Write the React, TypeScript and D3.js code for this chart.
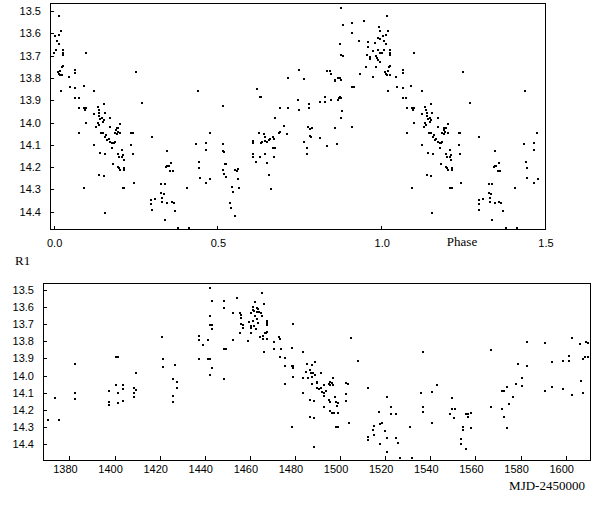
import * as d3 from "d3"

// R1 magnitudes folded on phase (0..1); the 1.0-1.5 part repeats 0-0.5
const phasePoints: [number, number][] = [
  [0.017, 13.521], [0.022, 13.59], [0.005, 13.611], [0.015, 13.608], [0.01, 13.633], [0.015, 13.649],
  [0.002, 13.687], [0.008, 13.675], [0.028, 13.675], [0.028, 13.69], [0.028, 13.697], [0.012, 13.772],
  [0.02, 13.769], [0.025, 13.75], [0.028, 13.747], [0.018, 13.787], [0.026, 13.787], [0.015, 13.78],
  [0.022, 13.857], [0.046, 13.794], [0.049, 13.839], [0.066, 13.765], [0.066, 13.777], [0.066, 13.844],
  [0.076, 13.889], [0.066, 13.889], [0.078, 13.936], [0.078, 14.046], [0.092, 13.836], [0.094, 13.936],
  [0.1, 13.936], [0.097, 13.944], [0.1, 13.69], [0.1, 14.001], [0.094, 14.292], [0.124, 13.857],
  [0.124, 13.963], [0.124, 14.101], [0.135, 13.929], [0.137, 13.944], [0.139, 13.959], [0.14, 13.971],
  [0.142, 13.986], [0.137, 14.011], [0.13, 14.019], [0.134, 14.004], [0.142, 14.138], [0.14, 14.235],
  [0.148, 13.981], [0.153, 13.989], [0.15, 13.996], [0.153, 13.917], [0.156, 13.959], [0.145, 14.049],
  [0.151, 14.049], [0.158, 14.064], [0.161, 14.056], [0.153, 14.238], [0.156, 14.404], [0.158, 14.141],
  [0.163, 14.078], [0.168, 14.075], [0.173, 14.086], [0.178, 14.093], [0.173, 14.019], [0.173, 13.978],
  [0.178, 14.116], [0.183, 14.093], [0.186, 14.086], [0.181, 14.186], [0.186, 14.046], [0.191, 14.034],
  [0.193, 14.026], [0.195, 14.041], [0.198, 14.026], [0.193, 14.052], [0.198, 14.141], [0.198, 14.198],
  [0.201, 14.206], [0.201, 14.153], [0.203, 14.213], [0.203, 14.007], [0.203, 14.046], [0.209, 14.123],
  [0.209, 14.153], [0.212, 14.146], [0.214, 14.168], [0.216, 14.206], [0.211, 14.292], [0.216, 14.292],
  [0.216, 14.213], [0.236, 14.046], [0.242, 14.046], [0.236, 14.101], [0.241, 14.141], [0.244, 14.27],
  [0.251, 13.772], [0.27, 13.911], [0.3, 14.064], [0.297, 14.348], [0.297, 14.365], [0.3, 14.392],
  [0.31, 14.345], [0.331, 14.34], [0.329, 14.276], [0.329, 14.318], [0.336, 14.322], [0.343, 14.198],
  [0.339, 14.276], [0.331, 14.355], [0.339, 14.437], [0.346, 14.126], [0.346, 14.194], [0.351, 14.194],
  [0.356, 14.217], [0.359, 14.183], [0.364, 14.217], [0.346, 14.359], [0.361, 14.355], [0.366, 14.359],
  [0.371, 14.395], [0.381, 14.475], [0.414, 14.475], [0.407, 14.292], [0.44, 13.857], [0.435, 14.096],
  [0.443, 14.176], [0.445, 14.206], [0.446, 14.247], [0.465, 14.093], [0.465, 14.123], [0.465, 14.27],
  [0.476, 14.046], [0.478, 14.253],
  [0.517, 13.926], [0.517, 14.096], [0.519, 14.131], [0.517, 14.126], [0.517, 14.213], [0.519, 14.232],
  [0.524, 14.186], [0.527, 14.188], [0.527, 14.243], [0.539, 14.359], [0.542, 14.385], [0.546, 14.291],
  [0.547, 14.31], [0.554, 14.213], [0.56, 14.216], [0.563, 14.21], [0.562, 14.255], [0.565, 14.295],
  [0.554, 14.418], [0.608, 14.083], [0.608, 14.09], [0.608, 14.143], [0.61, 14.153], [0.619, 14.176],
  [0.621, 13.85], [0.629, 13.884], [0.633, 13.884], [0.626, 14.046], [0.631, 14.153], [0.634, 14.09],
  [0.636, 14.086], [0.641, 14.052], [0.644, 14.081], [0.646, 14.064], [0.646, 14.141], [0.651, 14.183],
  [0.657, 14.235], [0.663, 14.297], [0.651, 14.086], [0.656, 14.078], [0.661, 14.075], [0.669, 14.067],
  [0.671, 14.116], [0.676, 14.116], [0.673, 14.075], [0.673, 14.156], [0.676, 13.978], [0.687, 14.046],
  [0.692, 14.041], [0.692, 13.933], [0.704, 14.016], [0.712, 14.052], [0.715, 13.799], [0.715, 13.936],
  [0.748, 13.765], [0.746, 13.899], [0.75, 13.944],
  [0.765, 13.805], [0.78, 13.917], [0.78, 13.933], [0.775, 14.019], [0.783, 14.031], [0.788, 14.026],
  [0.765, 14.086], [0.773, 14.113], [0.773, 14.143], [0.783, 14.061], [0.785, 14.064], [0.813, 13.907],
  [0.829, 13.884], [0.829, 13.907], [0.813, 14.071], [0.834, 14.104], [0.834, 13.769], [0.844, 13.769],
  [0.847, 13.784], [0.859, 13.809], [0.859, 13.814], [0.847, 13.899], [0.859, 14.023], [0.864, 14.096],
  [0.867, 13.899], [0.872, 13.892], [0.874, 13.884], [0.877, 13.889], [0.869, 13.799], [0.874, 13.802],
  [0.877, 13.809], [0.876, 13.981], [0.879, 13.947], [0.874, 13.646], [0.876, 13.699], [0.882, 13.702],
  [0.876, 13.484], [0.882, 13.563], [0.91, 13.555], [0.91, 13.597], [0.91, 13.839], [0.918, 13.839],
  [0.91, 14.019], [0.933, 13.633], [0.935, 13.783], [0.946, 13.543], [0.953, 13.75], [0.959, 13.638],
  [0.959, 13.66], [0.956, 13.697], [0.966, 13.705], [0.966, 13.717], [0.974, 13.679], [0.976, 13.794],
  [0.981, 13.642], [0.984, 13.702], [0.986, 13.712], [0.984, 13.75], [0.989, 13.62], [0.991, 13.675],
  [0.991, 13.72], [0.994, 13.57], [0.996, 13.59], [0.996, 13.623], [0.996, 13.687], [0.996, 13.727],
]

// R1 magnitudes against MJD-2450000
const mjdPoints: [number, number][] = [
  [1370.4, 14.259], [1373.4, 14.129], [1375.4, 14.259], [1382.5, 13.932], [1382.5, 14.1], [1382.5, 14.137],
  [1397.6, 14.092], [1397.6, 14.156], [1397.6, 14.173], [1400.5, 14.055], [1400.5, 13.891], [1401.4, 13.891],
  [1401.4, 14.1], [1401.7, 14.158], [1403.6, 14.055], [1403.6, 14.079], [1403.6, 14.148], [1408.7, 14.071],
  [1408.7, 14.123], [1408.7, 14.1], [1409.4, 14.084], [1409.4, 13.984], [1421.2, 13.777], [1421.4, 13.904],
  [1421.4, 13.949], [1425.7, 14.117], [1425.7, 14.156], [1425.7, 14.023], [1426.8, 13.939], [1427.6, 14.036],
  [1427.6, 14.071], [1437.5, 13.771], [1437.5, 13.794], [1437.6, 13.904], [1439.4, 13.823], [1441.3, 13.794],
  [1441.3, 13.906], [1442.4, 13.906], [1442.1, 13.994], [1442.1, 13.492], [1442.1, 13.655], [1442.4, 13.707],
  [1443.4, 13.568], [1443.4, 13.707], [1443.4, 13.73], [1443.4, 13.955], [1448.6, 13.568], [1448.6, 13.606],
  [1448.6, 13.846], [1449.4, 13.846], [1448.6, 14.023], [1452.3, 13.794], [1452.4, 13.639], [1454.2, 13.548],
  [1455.4, 13.639], [1455.9, 13.649], [1455.4, 13.752], [1455.9, 13.703], [1455.9, 13.668], [1457.1, 13.707],
  [1457.1, 13.726], [1459.3, 13.8], [1459.8, 13.688], [1460.4, 13.639], [1460.4, 13.713], [1460.4, 13.726],
  [1460.4, 13.752], [1461.3, 13.601], [1461.3, 13.62], [1461.9, 13.624], [1461.6, 13.684], [1461.9, 13.711],
  [1462.3, 13.574], [1462.3, 13.655], [1462.7, 13.732], [1463.0, 13.63], [1463.8, 13.63], [1464.2, 13.63],
  [1463.3, 13.606], [1463.8, 13.616], [1463.3, 13.674], [1463.8, 13.697], [1464.5, 13.775], [1464.8, 13.635],
  [1465.3, 13.655], [1465.3, 13.523], [1465.7, 13.79], [1466.0, 13.771], [1466.4, 13.587], [1466.7, 13.752],
  [1467.2, 13.755], [1466.4, 13.862], [1467.5, 13.684], [1467.5, 13.697], [1467.5, 13.707], [1467.5, 13.79],
  [1467.5, 13.748], [1470.7, 13.804], [1470.7, 13.844], [1473.1, 13.775], [1473.4, 13.785], [1473.7, 13.848],
  [1473.4, 13.891], [1475.6, 13.897], [1475.6, 13.945], [1475.6, 14.05], [1478.6, 13.839], [1478.6, 13.945],
  [1479.3, 13.945], [1479.3, 13.955], [1479.3, 14.007], [1479.3, 13.701], [1478.6, 14.297],
  [1483.4, 13.862], [1483.4, 14.013], [1483.4, 14.104], [1484.9, 13.978], [1485.2, 13.934], [1485.7, 14.017],
  [1486.7, 13.968], [1487.5, 13.939], [1487.2, 13.988], [1487.7, 14.007], [1488.2, 13.984], [1488.7, 13.997],
  [1487.5, 14.05], [1489.6, 14.036], [1489.6, 14.046], [1488.9, 13.92], [1486.7, 14.143], [1486.7, 14.239],
  [1488.5, 14.245], [1488.5, 14.146], [1488.5, 14.413], [1489.9, 14.075], [1490.7, 14.081], [1491.5, 14.075],
  [1491.5, 13.984], [1491.9, 14.094], [1492.7, 14.1], [1493.0, 14.119], [1492.7, 14.185], [1493.0, 14.055],
  [1493.9, 14.088], [1494.9, 14.05], [1495.6, 14.055], [1495.6, 14.036], [1496.4, 14.042], [1495.3, 14.143],
  [1495.6, 14.152], [1495.6, 14.204], [1496.4, 14.22], [1497.1, 14.22], [1496.7, 14.013], [1496.7, 14.055],
  [1497.7, 14.123], [1498.1, 14.152], [1498.9, 14.158], [1498.1, 14.297], [1498.9, 14.297], [1498.6, 14.177],
  [1498.9, 14.216], [1502.5, 14.042], [1503.4, 14.05], [1502.6, 14.11], [1502.6, 14.146], [1503.9, 14.274],
  [1504.7, 13.781], [1507.8, 13.914], [1512.5, 14.071], [1512.5, 14.355], [1512.5, 14.375], [1514.4, 14.317],
  [1515.0, 14.292], [1515.0, 14.346], [1517.3, 14.21], [1517.6, 14.284], [1518.4, 14.278], [1517.6, 14.4],
  [1519.9, 14.323], [1520.6, 14.127], [1520.6, 14.361], [1520.6, 14.443], [1522.4, 14.185], [1522.4, 14.224],
  [1524.6, 14.224], [1524.6, 14.361], [1525.5, 14.394], [1526.6, 14.477], [1531.0, 14.297], [1531.7, 14.477],
  [1535.7, 14.1], [1536.6, 13.862], [1536.6, 14.181], [1536.6, 14.21], [1540.6, 14.094], [1540.6, 14.274],
  [1542.8, 14.055], [1548.7, 14.224], [1549.4, 14.129], [1549.4, 14.195], [1550.9, 14.195], [1550.6, 14.245],
  [1553.5, 14.369], [1553.5, 14.398], [1554.6, 14.297], [1554.6, 14.317], [1555.7, 14.224], [1556.6, 14.224],
  [1555.7, 14.427], [1556.8, 14.239], [1557.9, 14.216], [1557.9, 14.303], [1566.8, 13.852], [1566.8, 14.181],
  [1571.6, 14.09], [1572.7, 14.09], [1571.6, 14.195], [1572.7, 14.239], [1573.9, 14.065], [1573.9, 14.303],
  [1574.9, 14.166], [1576.6, 14.123], [1577.9, 14.05], [1578.7, 13.935], [1580.6, 14.017], [1580.6, 14.061],
  [1582.8, 13.804], [1582.8, 13.945], [1590.9, 13.81], [1590.9, 14.09], [1593.9, 13.92], [1593.9, 14.065],
  [1598.8, 13.914], [1598.8, 14.077], [1601.7, 13.887], [1601.7, 13.914], [1602.7, 13.781], [1602.7, 14.114],
  [1606.4, 13.817], [1606.7, 14.03], [1607.6, 13.906], [1607.6, 14.1], [1608.6, 13.891], [1609.7, 13.891],
  [1608.9, 13.804], [1609.7, 13.81],
]

const magTicks = [13.5, 13.6, 13.7, 13.8, 13.9, 14.0, 14.1, 14.2, 14.3, 14.4]
const phaseTicks = [0, 0.5, 1.0, 1.5]
const mjdTicks = d3.range(1380, 1601, 20)

const tickFont = "'Liberation Sans', Arial, sans-serif"
const titleFont = "'Liberation Serif', 'Times New Roman', serif"

export default function App() {
  const W = 611
  const H = 507

  // top panel (phase)
  const xP = d3.scaleLinear().domain([-0.008, 1.5]).range([51, 545])
  const yP = d3.scaleLinear().domain([13.466, 14.482]).range([3.5, 230])

  // bottom panel (time)
  const xT = d3.scaleLinear().domain([1368.5, 1610.8]).range([43.5, 590])
  const yT = d3.scaleLinear().domain([13.465, 14.491]).range([283.5, 460])

  // repeat the first half cycle after phase 1
  const folded = phasePoints.concat(
    phasePoints.filter((d) => d[0] + 1 <= 1.5).map((d) => [d[0] + 1, d[1]] as [number, number])
  )

  const dot = (x: number, y: number, i: number) => (
    <rect key={i} x={Math.round(x) - 1} y={Math.round(y) - 1} width={2} height={2} fill="#000" />
  )

  return (
    <svg width={W} height={H} style={{ position: "absolute", left: 0, top: 0, background: "#fff" }} shapeRendering="crispEdges">
      <defs>
        <clipPath id="clipTop">
          <rect x={51} y={3.5} width={494} height={226.5} />
        </clipPath>
        <clipPath id="clipBot">
          <rect x={43.5} y={283.5} width={546.5} height={176.5} />
        </clipPath>
      </defs>

      {/* top panel */}
      <g clipPath="url(#clipTop)">{folded.map((d, i) => dot(xP(d[0]), yP(d[1]), i))}</g>
      <rect x={50.5} y={3.5} width={494.5} height={226} fill="none" stroke="#000" />
      {magTicks.map((m) => (
        <g key={m}>
          <line x1={51} x2={54} y1={Math.round(yP(m)) + 0.5} y2={Math.round(yP(m)) + 0.5} stroke="#000" />
          <text x={41} y={yP(m) + 4} textAnchor="end" fontFamily={tickFont} fontSize={11}>
            {m.toFixed(1)}
          </text>
        </g>
      ))}
      {phaseTicks.map((p) => (
        <g key={p}>
          <line x1={Math.round(xP(p)) + 0.5} x2={Math.round(xP(p)) + 0.5} y1={226} y2={230} stroke="#000" />
          <text x={xP(p) + 1} y={247} textAnchor="middle" fontFamily={tickFont} fontSize={11}>
            {p.toFixed(1)}
          </text>
        </g>
      ))}
      <text x={462} y={246} textAnchor="middle" fontFamily={titleFont} fontSize={13}>
        Phase
      </text>
      <text x={15} y={265} fontFamily={titleFont} fontSize={13}>
        R1
      </text>

      {/* bottom panel */}
      <g clipPath="url(#clipBot)">{mjdPoints.map((d, i) => dot(xT(d[0]), yT(d[1]), i))}</g>
      <rect x={43.5} y={283.5} width={546.5} height={176.5} fill="none" stroke="#000" />
      {magTicks.map((m) => (
        <g key={m}>
          <line x1={44} x2={47} y1={Math.round(yT(m)) + 0.5} y2={Math.round(yT(m)) + 0.5} stroke="#000" />
          <text x={34} y={yT(m) + 4} textAnchor="end" fontFamily={tickFont} fontSize={11}>
            {m.toFixed(1)}
          </text>
        </g>
      ))}
      {mjdTicks.map((t) => (
        <g key={t}>
          <line x1={Math.round(xT(t)) + 0.5} x2={Math.round(xT(t)) + 0.5} y1={456} y2={460} stroke="#000" />
          <text x={xT(t) - 4} y={473} textAnchor="middle" fontFamily={tickFont} fontSize={11}>
            {t}
          </text>
        </g>
      ))}
      <text x={547} y={490} textAnchor="middle" fontFamily={titleFont} fontSize={13}>
        MJD-2450000
      </text>
    </svg>
  )
}
